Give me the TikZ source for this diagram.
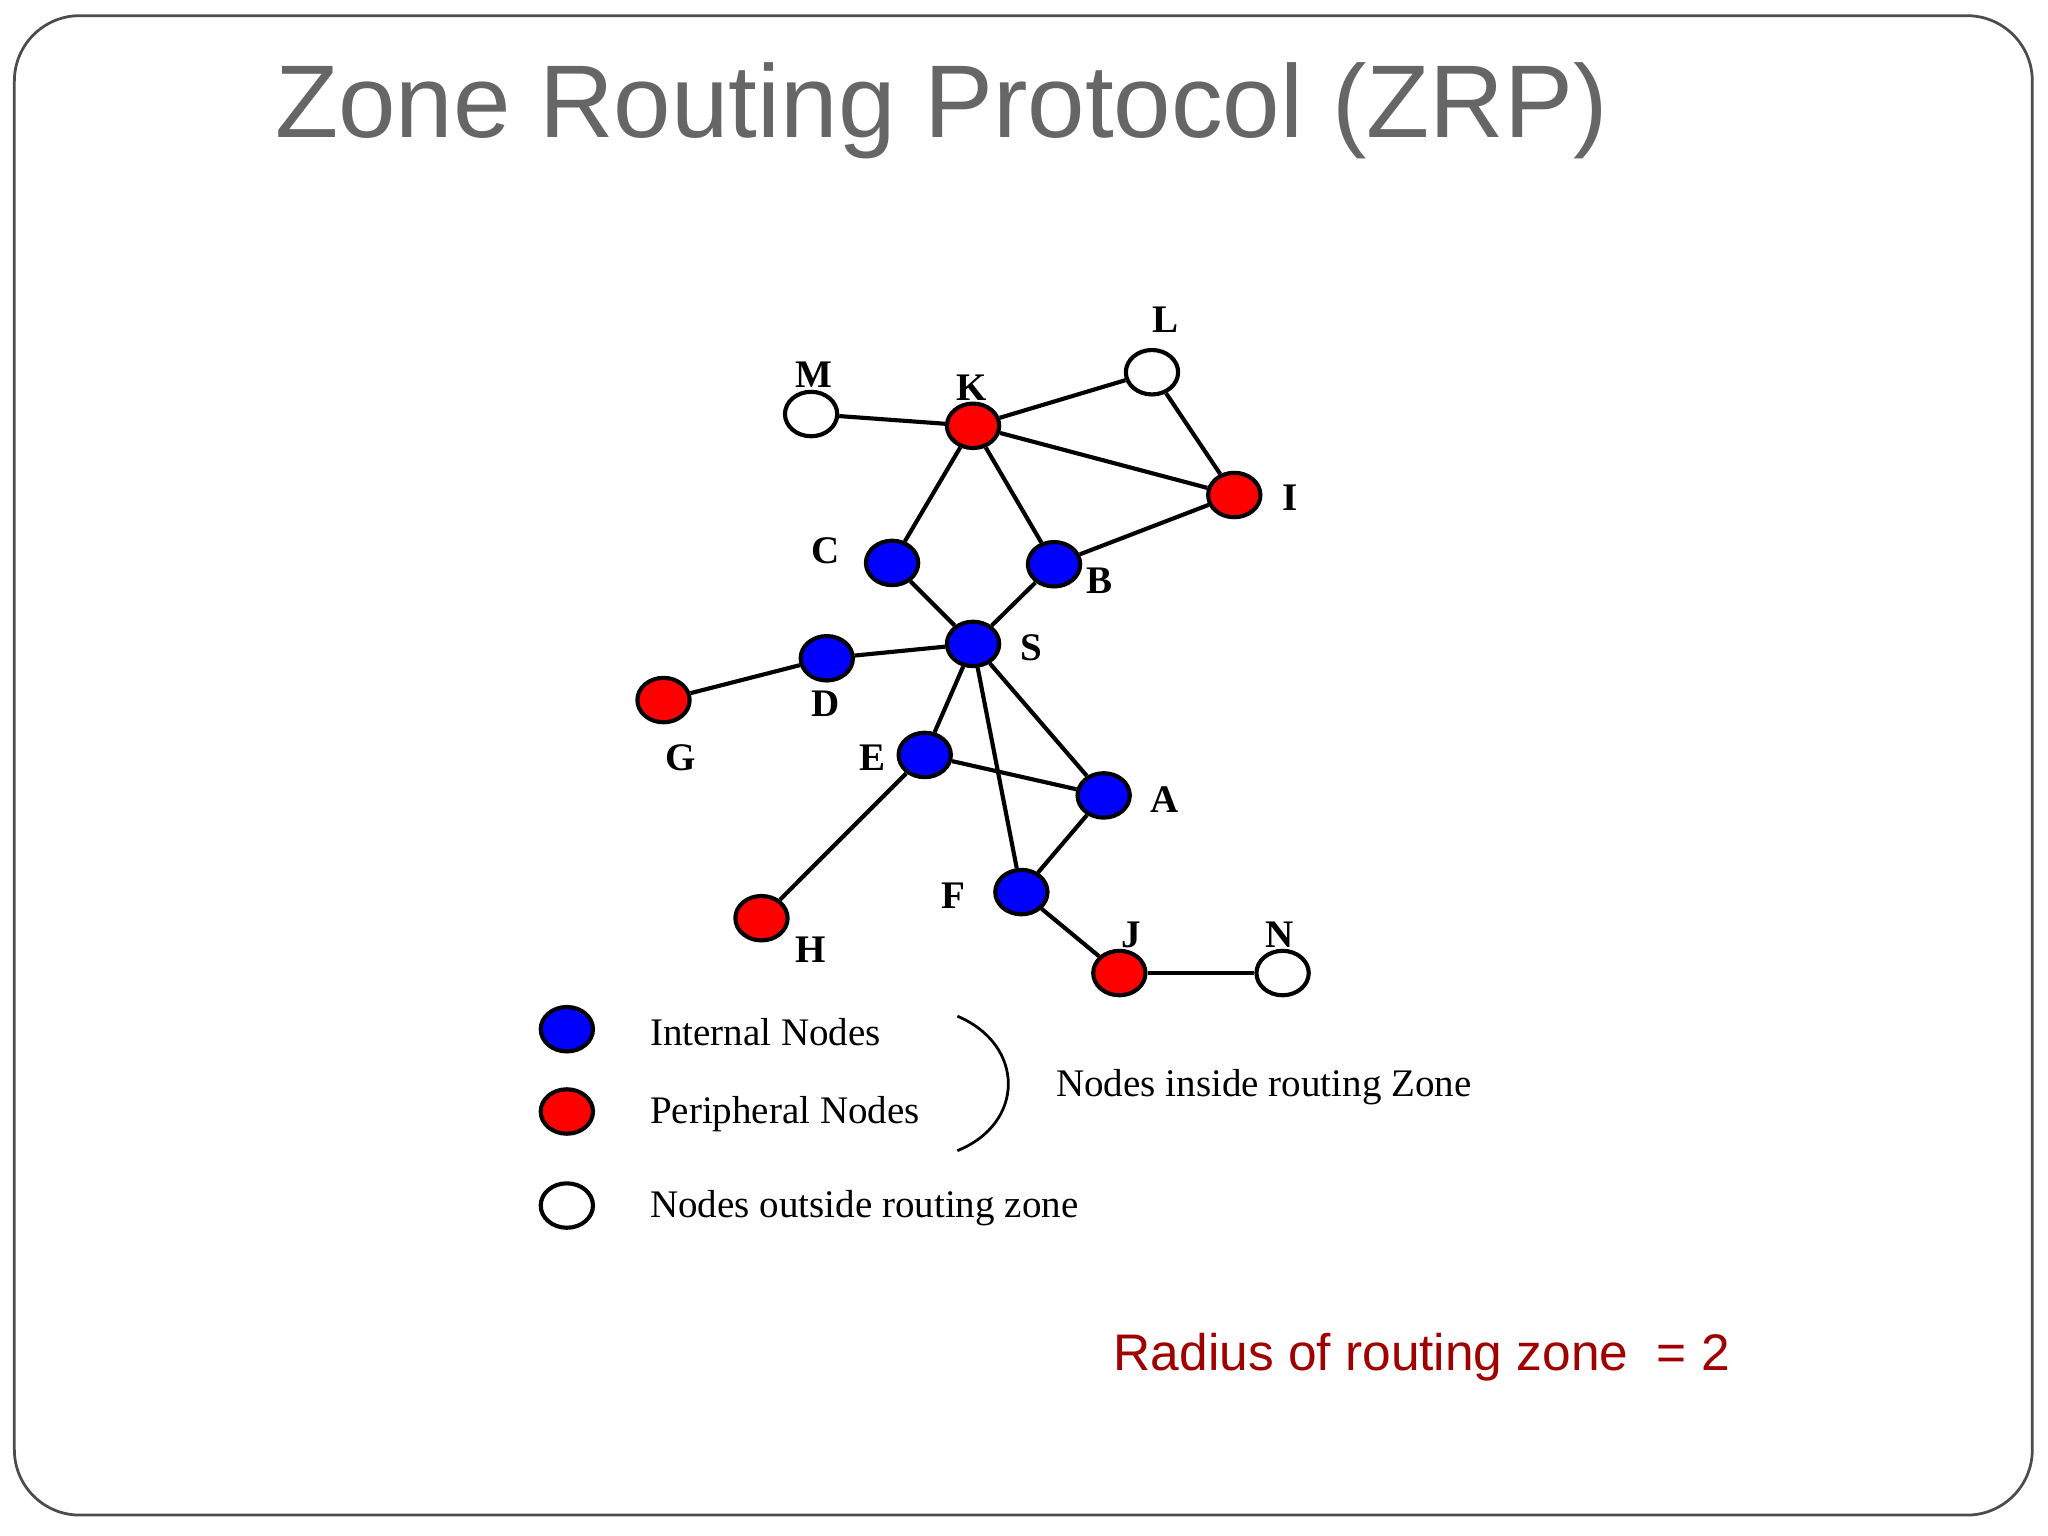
\documentclass[tikz,border=0pt]{standalone}
\usepackage{fontspec}
\setmainfont{Liberation Serif}
\newfontfamily\arialf{Liberation Sans}
\usetikzlibrary{shapes.geometric}
\begin{document}
\begin{tikzpicture}[x=0.01cm,y=-0.01cm,
 nd/.style={ellipse,draw,line width=0.9pt,minimum width=0.4cm,minimum height=0.34cm,inner sep=0pt},
 bl/.style={nd,fill=blue},rd/.style={nd,fill=red},wh/.style={nd,fill=white},
 lb/.style={font=\bfseries\fontsize{8.5}{10}\selectfont},
 lg/.style={anchor=west,inner sep=0pt,font=\fontsize{8.5}{10}\selectfont},
 ed/.style={line width=0.9pt}]
\useasboundingbox (0,0) rectangle (1568,1176);
\draw[black!70, line width=0.6pt, rounded corners=0.5cm] (11,12) rectangle (1556,1160);
\node[anchor=west,inner sep=0pt,text=black!60,font=\arialf\fontsize{22.5}{26}\selectfont] (title) at (210,85) {Zone Routing Protocol (ZRP)};
\node[wh] (M) at (621,317) {}; \node[rd] (K) at (745,326) {};
\node[wh] (L) at (882,285) {}; \node[rd] (I) at (945,379) {};
\node[bl] (C) at (683,431) {}; \node[bl] (B) at (807,432) {};
\node[bl] (S) at (745,493) {}; \node[bl] (D) at (633,504) {};
\node[rd] (G) at (508,536) {}; \node[bl] (E) at (708,578) {};
\node[bl] (A) at (845,609) {}; \node[bl] (F) at (782,683) {};
\node[rd] (H) at (583,703) {}; \node[rd] (J) at (857,745) {};
\node[wh] (N) at (982,745) {};
\foreach \a/\b in {M/K,K/L,L/I,K/I,K/C,K/B,B/I,C/S,B/S,S/D,D/G,S/E,S/A,S/F,E/A,A/F,E/H,F/J,J/N}
  \draw[ed] (\a) -- (\b);
\node[lb] (lM) at (623,287) {M}; \node[lb] (lK) at (744,297) {K};
\node[lb] (lL) at (892,245) {L}; \node[lb] (lI) at (988,381) {I};
\node[lb] (lC) at (632,422) {C}; \node[lb] (lB) at (842,445) {B};
\node[lb] (lS) at (790,496) {S}; \node[lb] (lD) at (632,539) {D};
\node[lb] (lG) at (521,580) {G}; \node[lb] (lE) at (668,580) {E};
\node[lb] (lA) at (892,612) {A}; \node[lb] (lF) at (730,686) {F};
\node[lb] (lH) at (621,727) {H}; \node[lb] (lJ) at (866,716) {J};
\node[lb] (lN) at (980,716) {N};
\node[bl] (k1) at (434,788) {}; \node[rd] (k2) at (434,851) {}; \node[wh] (k3) at (434,923) {};
\node[lg] (t1) at (497,790) {Internal Nodes};
\node[lg] (t2) at (497,853) {Peripheral Nodes};
\node[lg] (t3) at (497,925) {Nodes outside routing zone};
\draw[line width=0.6pt] (733,778) .. controls (785,800) and (785,860) .. (733,881);
\node[lg] (t4) at (808,832) {Nodes inside routing Zone};
\node[anchor=west,inner sep=0pt,text={rgb,255:red,160;green,0;blue,0},font=\arialf\fontsize{11.2}{13}\selectfont] (rad) at (852,1039) {Radius of routing zone\ \ = 2};
\end{tikzpicture}
\end{document}
